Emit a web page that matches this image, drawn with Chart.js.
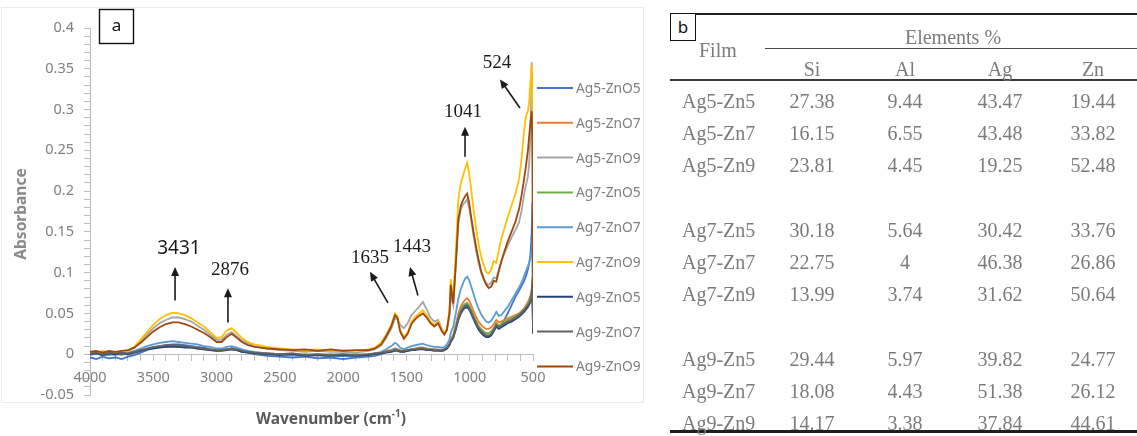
<!DOCTYPE html>
<html>
<head>
<meta charset="utf-8">
<script src="https://cdn.jsdelivr.net/npm/chart.js@4.4.0/dist/chart.umd.min.js"></script>
<style>
  html, body { margin: 0; padding: 0; background: #fff; }
  #page { position: relative; width: 1137px; height: 436px; overflow: hidden; }
  #chartCanvas { position: absolute; left: 0; top: 0; }
  #tableBox { position: absolute; left: 0; top: 0; width: 1137px; height: 436px;
    font-family: 'Liberation Serif', 'Times New Roman', serif; font-size: 20px; color: #7b7b7b; }
  .cell { position: absolute; white-space: nowrap; line-height: 1; }
  .center { transform: translate(-50%, -50%); }
  .left { transform: translateY(-50%); }
  .rule { position: absolute; right: 0; }
  #boxB { position: absolute; left: 670px; top: 13px; width: 24px; height: 26px; border: 1.5px solid #111;
    background: #fff; font-family: 'Noto Sans', sans-serif; font-size: 17px; color: #111;
    text-align: center; line-height: 25px; }
</style>
</head>
<body>
<div id="page">
  <canvas id="chartCanvas" width="645" height="436"></canvas>
  <div id="tableBox"></div>
</div>
<script>
"use strict";

// 1: data
// FTIR spectra (wavenumber in cm-1, absorbance)
const wavenumbers = [
  4000, 3950, 3900, 3850, 3800, 3750, 3700, 3650, 3600, 3550,
  3500, 3450, 3400, 3350, 3300, 3250, 3200, 3150, 3100, 3050,
  3000, 2960, 2920, 2880, 2840, 2800, 2750, 2700, 2600, 2500,
  2400, 2300, 2200, 2100, 2000, 1900, 1800, 1750, 1700, 1660,
  1620, 1590, 1570, 1550, 1520, 1490, 1460, 1430, 1400, 1370,
  1340, 1310, 1280, 1250, 1220, 1200, 1180, 1160, 1150, 1130,
  1110, 1090, 1070, 1050, 1035, 1020, 1005, 990, 970, 950,
  930, 910, 890, 870, 850, 830, 810, 790, 770, 750,
  730, 700, 670, 640, 610, 590, 570, 555, 540, 530,
  520, 510, 505, 500
];

const seriesNames = ['Ag5-ZnO5', 'Ag5-ZnO7', 'Ag5-ZnO9', 'Ag7-ZnO5', 'Ag7-ZnO7',
  'Ag7-ZnO9', 'Ag9-ZnO5', 'Ag9-ZnO7', 'Ag9-ZnO9'];

const ag5ZnO5 = [
  -0.004, -0.006, -0.003, -0.005, -0.004, -0.006, -0.003, -0.001, 0.002, 0.005,
  0.008, 0.010, 0.011, 0.012, 0.012, 0.011, 0.010, 0.009, 0.008, 0.006,
  0.005, 0.005, 0.006, 0.007, 0.005, 0.003, 0.002, 0.000, -0.002, -0.003,
  -0.004, -0.003, -0.005, -0.004, -0.006, -0.004, -0.003, -0.002, 0.000, 0.003,
  0.005, 0.007, 0.006, 0.004, 0.003, 0.005, 0.006, 0.007, 0.008, 0.008,
  0.007, 0.006, 0.006, 0.005, 0.005, 0.006, 0.008, 0.012, 0.016, 0.022,
  0.032, 0.044, 0.052, 0.057, 0.060, 0.062, 0.059, 0.054, 0.047, 0.040,
  0.034, 0.029, 0.026, 0.023, 0.022, 0.024, 0.029, 0.036, 0.033, 0.036,
  0.041, 0.050, 0.060, 0.070, 0.078, 0.084, 0.090, 0.096, 0.104, 0.112,
  0.122, 0.150, 0.185, 0.040
];
const ag5ZnO7 = [
  0.001, 0.000, 0.002, 0.000, 0.001, -0.001, 0.001, 0.003, 0.005, 0.007,
  0.008, 0.009, 0.010, 0.010, 0.010, 0.009, 0.009, 0.008, 0.007, 0.006,
  0.005, 0.005, 0.006, 0.007, 0.006, 0.004, 0.003, 0.002, 0.001, 0.000,
  0.001, -0.001, 0.000, -0.001, 0.000, -0.001, 0.000, 0.001, 0.002, 0.004,
  0.005, 0.006, 0.006, 0.005, 0.004, 0.005, 0.006, 0.007, 0.008, 0.008,
  0.007, 0.006, 0.006, 0.006, 0.005, 0.006, 0.008, 0.013, 0.018, 0.024,
  0.036, 0.050, 0.059, 0.064, 0.067, 0.069, 0.066, 0.061, 0.053, 0.046,
  0.040, 0.036, 0.033, 0.031, 0.031, 0.033, 0.037, 0.042, 0.039, 0.040,
  0.042, 0.044, 0.046, 0.048, 0.050, 0.053, 0.056, 0.060, 0.064, 0.068,
  0.072, 0.080, 0.095, 0.030
];
const ag5ZnO9 = [
  0.001, 0.000, 0.002, 0.001, 0.000, 0.002, 0.003, 0.008, 0.016, 0.024,
  0.032, 0.038, 0.042, 0.045, 0.045, 0.043, 0.040, 0.035, 0.030, 0.024,
  0.018, 0.018, 0.024, 0.027, 0.022, 0.017, 0.013, 0.010, 0.007, 0.005,
  0.004, 0.003, 0.004, 0.003, 0.003, 0.002, 0.004, 0.006, 0.011, 0.020,
  0.031, 0.044, 0.043, 0.036, 0.032, 0.038, 0.048, 0.053, 0.058, 0.064,
  0.055, 0.045, 0.040, 0.042, 0.031, 0.026, 0.030, 0.048, 0.072, 0.060,
  0.108, 0.160, 0.178, 0.184, 0.187, 0.190, 0.180, 0.166, 0.145, 0.127,
  0.112, 0.100, 0.092, 0.087, 0.085, 0.088, 0.094, 0.093, 0.104, 0.114,
  0.122, 0.133, 0.143, 0.152, 0.162, 0.176, 0.196, 0.208, 0.218, 0.235,
  0.270, 0.358, 0.300, 0.210
];
const ag7ZnO5 = [
  0.000, 0.001, 0.000, -0.001, 0.001, 0.000, 0.000, 0.002, 0.004, 0.006,
  0.008, 0.009, 0.009, 0.010, 0.009, 0.009, 0.008, 0.007, 0.006, 0.005,
  0.004, 0.005, 0.006, 0.006, 0.005, 0.004, 0.002, 0.001, 0.000, 0.000,
  -0.001, 0.000, -0.001, 0.000, -0.001, 0.000, -0.001, 0.000, 0.001, 0.003,
  0.004, 0.005, 0.005, 0.004, 0.004, 0.004, 0.005, 0.006, 0.007, 0.007,
  0.006, 0.005, 0.005, 0.005, 0.004, 0.005, 0.007, 0.012, 0.016, 0.022,
  0.033, 0.046, 0.055, 0.060, 0.062, 0.063, 0.060, 0.055, 0.048, 0.041,
  0.035, 0.031, 0.028, 0.026, 0.026, 0.028, 0.032, 0.038, 0.035, 0.037,
  0.039, 0.042, 0.044, 0.046, 0.049, 0.052, 0.055, 0.058, 0.062, 0.065,
  0.069, 0.077, 0.092, 0.028
];
const ag7ZnO7 = [
  -0.001, 0.001, -0.002, 0.000, -0.001, 0.001, 0.001, 0.004, 0.007, 0.010,
  0.012, 0.014, 0.015, 0.016, 0.015, 0.014, 0.013, 0.012, 0.010, 0.009,
  0.007, 0.007, 0.009, 0.010, 0.008, 0.006, 0.004, 0.003, 0.001, 0.000,
  -0.001, -0.002, -0.001, -0.003, -0.002, -0.003, -0.001, 0.001, 0.003, 0.006,
  0.010, 0.014, 0.012, 0.008, 0.006, 0.008, 0.010, 0.011, 0.012, 0.013,
  0.011, 0.010, 0.009, 0.009, 0.008, 0.009, 0.012, 0.018, 0.026, 0.034,
  0.050, 0.068, 0.080, 0.088, 0.093, 0.095, 0.091, 0.084, 0.074, 0.064,
  0.056, 0.049, 0.044, 0.040, 0.039, 0.041, 0.046, 0.052, 0.047, 0.048,
  0.052, 0.058, 0.066, 0.074, 0.082, 0.088, 0.096, 0.102, 0.108, 0.112,
  0.118, 0.125, 0.140, 0.050
];
const ag7ZnO9 = [
  0.003, 0.002, 0.004, 0.002, 0.003, 0.002, 0.004, 0.009, 0.018, 0.027,
  0.036, 0.043, 0.048, 0.051, 0.050, 0.048, 0.044, 0.039, 0.034, 0.027,
  0.020, 0.021, 0.029, 0.032, 0.026, 0.020, 0.015, 0.012, 0.009, 0.007,
  0.006, 0.005, 0.006, 0.004, 0.005, 0.004, 0.006, 0.008, 0.014, 0.024,
  0.036, 0.050, 0.046, 0.030, 0.021, 0.027, 0.040, 0.046, 0.050, 0.054,
  0.048, 0.040, 0.036, 0.040, 0.030, 0.026, 0.032, 0.055, 0.092, 0.068,
  0.125, 0.190, 0.210, 0.220, 0.228, 0.235, 0.222, 0.205, 0.178, 0.155,
  0.135, 0.120, 0.110, 0.101, 0.099, 0.104, 0.114, 0.112, 0.128, 0.142,
  0.152, 0.168, 0.182, 0.196, 0.215, 0.240, 0.275, 0.292, 0.298, 0.310,
  0.335, 0.355, 0.300, 0.200
];
const ag9ZnO5 = [
  0.000, 0.001, -0.001, 0.001, 0.000, 0.001, 0.000, 0.002, 0.004, 0.006,
  0.007, 0.008, 0.009, 0.009, 0.009, 0.008, 0.008, 0.007, 0.006, 0.005,
  0.004, 0.004, 0.005, 0.006, 0.005, 0.003, 0.002, 0.001, 0.000, -0.001,
  0.000, -0.002, -0.001, -0.002, -0.001, -0.002, -0.001, 0.000, 0.001, 0.002,
  0.003, 0.004, 0.004, 0.003, 0.003, 0.004, 0.005, 0.005, 0.006, 0.006,
  0.005, 0.005, 0.004, 0.004, 0.004, 0.005, 0.007, 0.011, 0.015, 0.020,
  0.030, 0.042, 0.050, 0.055, 0.057, 0.058, 0.055, 0.050, 0.043, 0.036,
  0.030, 0.026, 0.023, 0.021, 0.021, 0.023, 0.028, 0.034, 0.031, 0.033,
  0.035, 0.038, 0.040, 0.043, 0.046, 0.049, 0.052, 0.055, 0.058, 0.061,
  0.064, 0.072, 0.085, 0.025
];
const ag9ZnO7 = [
  0.001, 0.002, 0.000, 0.002, 0.001, 0.002, 0.001, 0.003, 0.005, 0.007,
  0.009, 0.010, 0.011, 0.011, 0.011, 0.010, 0.009, 0.008, 0.007, 0.006,
  0.005, 0.005, 0.006, 0.007, 0.006, 0.004, 0.003, 0.002, 0.001, 0.000,
  0.001, -0.001, 0.000, -0.001, 0.000, -0.001, 0.000, 0.001, 0.002, 0.003,
  0.004, 0.005, 0.005, 0.004, 0.004, 0.005, 0.006, 0.006, 0.007, 0.007,
  0.006, 0.006, 0.005, 0.005, 0.005, 0.006, 0.008, 0.012, 0.016, 0.021,
  0.031, 0.044, 0.052, 0.057, 0.059, 0.060, 0.057, 0.052, 0.045, 0.038,
  0.032, 0.028, 0.025, 0.023, 0.023, 0.025, 0.030, 0.036, 0.033, 0.035,
  0.037, 0.040, 0.042, 0.045, 0.048, 0.051, 0.054, 0.057, 0.060, 0.063,
  0.066, 0.075, 0.090, 0.030
];
const ag9ZnO9 = [
  0.003, 0.004, 0.002, 0.004, 0.003, 0.004, 0.005, 0.008, 0.014, 0.021,
  0.028, 0.033, 0.037, 0.039, 0.039, 0.037, 0.034, 0.030, 0.026, 0.021,
  0.015, 0.015, 0.021, 0.025, 0.020, 0.015, 0.011, 0.009, 0.007, 0.006,
  0.005, 0.006, 0.004, 0.006, 0.004, 0.005, 0.005, 0.007, 0.012, 0.022,
  0.034, 0.048, 0.044, 0.028, 0.019, 0.025, 0.037, 0.043, 0.047, 0.050,
  0.045, 0.038, 0.034, 0.038, 0.028, 0.024, 0.030, 0.050, 0.085, 0.062,
  0.110, 0.165, 0.182, 0.190, 0.194, 0.197, 0.186, 0.170, 0.150, 0.132,
  0.116, 0.102, 0.093, 0.085, 0.081, 0.083, 0.090, 0.089, 0.102, 0.114,
  0.124, 0.138, 0.150, 0.162, 0.178, 0.195, 0.215, 0.232, 0.250, 0.268,
  0.285, 0.298, 0.260, 0.080
];
const seriesValues = [ag5ZnO5, ag5ZnO7, ag5ZnO9, ag7ZnO5, ag7ZnO7, ag7ZnO9, ag9ZnO5, ag9ZnO7, ag9ZnO9];

// peak annotations
const peakLabels = ['3431', '2876', '1635', '1443', '1041', '524'];

// table (b): elemental composition
const films = ['Ag5-Zn5', 'Ag5-Zn7', 'Ag5-Zn9', 'Ag7-Zn5', 'Ag7-Zn7', 'Ag7-Zn9', 'Ag9-Zn5', 'Ag9-Zn7', 'Ag9-Zn9'];
const elements = ['Si', 'Al', 'Ag', 'Zn'];
const siPct = [27.38, 16.15, 23.81, 30.18, 22.75, 13.99, 29.44, 18.08, 14.17];
const alPct = [9.44, 6.55, 4.45, 5.64, 4, 3.74, 5.97, 4.43, 3.38];
const agPct = [43.47, 43.48, 19.25, 30.42, 46.38, 31.62, 39.82, 51.38, 37.84];
const znPct = [19.44, 33.82, 52.48, 33.76, 26.86, 50.64, 24.77, 26.12, 44.61];

// 2: styling
const seriesColors = ['#4472C4', '#ED7D31', '#A5A5A5', '#70AD47', '#5B9BD5',
  '#FFC000', '#264478', '#636363', '#9E480E'];
const sansFont = "'Noto Sans', 'Open Sans', sans-serif";
const serifFont = "'Liberation Serif', 'Times New Roman', serif";
const axisGray = '#BFBFBF';
const tickGray = '#7F7F7F';

// where each peak label and its arrow sit, in chart values (wavenumber, absorbance)
const peakPlacement = [
  { text: [3297, 0.130], from: [3328, 0.066], to: [3328, 0.107], font: '19px ' + sansFont },
  { text: [2894, 0.103], from: [2910, 0.039], to: [2910, 0.081], font: '19px ' + serifFont },
  { text: [1788, 0.118], from: [1646, 0.063], to: [1788, 0.101], font: '19px ' + serifFont },
  { text: [1456, 0.131], from: [1409, 0.072], to: [1472, 0.107], font: '19px ' + serifFont },
  { text: [1053, 0.297], from: [1037, 0.242], to: [1037, 0.279], font: '19px ' + serifFont },
  { text: [784, 0.357], from: [603, 0.302], to: [761, 0.337], font: '19px ' + serifFont }
];

function drawArrow(ctx, x1, y1, x2, y2) {
  const ang = Math.atan2(y2 - y1, x2 - x1);
  const head = 9, half = 4;
  ctx.beginPath();
  ctx.moveTo(x1, y1);
  ctx.lineTo(x2 - Math.cos(ang) * head * 0.7, y2 - Math.sin(ang) * head * 0.7);
  ctx.stroke();
  ctx.beginPath();
  ctx.moveTo(x2, y2);
  ctx.lineTo(x2 - head * Math.cos(ang) + half * Math.sin(ang), y2 - head * Math.sin(ang) - half * Math.cos(ang));
  ctx.lineTo(x2 - head * Math.cos(ang) - half * Math.sin(ang), y2 - head * Math.sin(ang) + half * Math.cos(ang));
  ctx.closePath();
  ctx.fill();
}

// extra drawing: frame, legend, titles, peak arrows, panel letter
const decorations = {
  id: 'decorations',
  beforeDraw(chart) {
    const ctx = chart.ctx;
    ctx.save();
    ctx.strokeStyle = '#EBEBEB';
    ctx.lineWidth = 1;
    ctx.strokeRect(1.5, 7.5, 642, 395);
    ctx.restore();
  },
  afterDraw(chart) {
    const ctx = chart.ctx;
    const x = chart.scales.x, y = chart.scales.y;
    ctx.save();

    // peak labels and arrows
    ctx.fillStyle = '#1a1a1a';
    ctx.strokeStyle = '#1a1a1a';
    ctx.lineWidth = 1.6;
    ctx.textAlign = 'center';
    ctx.textBaseline = 'middle';
    peakLabels.forEach((label, i) => {
      const p = peakPlacement[i];
      ctx.font = p.font;
      ctx.fillText(label, x.getPixelForValue(p.text[0]), y.getPixelForValue(p.text[1]));
      drawArrow(ctx,
        x.getPixelForValue(p.from[0]), y.getPixelForValue(p.from[1]),
        x.getPixelForValue(p.to[0]), y.getPixelForValue(p.to[1]));
    });

    // legend
    ctx.font = '13.8px ' + sansFont;
    ctx.textAlign = 'left';
    chart.data.datasets.forEach((ds, i) => {
      const ly = 88 + i * 34.8;
      ctx.strokeStyle = ds.borderColor;
      ctx.lineWidth = 2;
      ctx.beginPath();
      ctx.moveTo(537, ly);
      ctx.lineTo(573, ly);
      ctx.stroke();
      ctx.fillStyle = tickGray;
      ctx.fillText(ds.label, 576, ly + 1);
    });

    // y axis title
    ctx.save();
    ctx.translate(22, 214);
    ctx.rotate(-Math.PI / 2);
    ctx.font = 'bold 15.5px ' + sansFont;
    ctx.fillStyle = '#8A8A8A';
    ctx.textAlign = 'center';
    ctx.fillText('Absorbance', 0, 0);
    ctx.restore();

    // x axis title with superscript
    const main = 'Wavenumber (cm', sup = '-1', tail = ')';
    const bigFont = 'bold 15.5px ' + sansFont, smallFont = 'bold 10px ' + sansFont;
    ctx.font = bigFont;
    const wMain = ctx.measureText(main).width, wTail = ctx.measureText(tail).width;
    ctx.font = smallFont;
    const wSup = ctx.measureText(sup).width;
    let tx = 331 - (wMain + wSup + wTail) / 2;
    ctx.fillStyle = '#595959';
    ctx.font = bigFont;
    ctx.fillText(main, tx, 420);
    tx += wMain;
    ctx.font = smallFont;
    ctx.fillText(sup, tx, 414);
    tx += wSup;
    ctx.font = bigFont;
    ctx.fillText(tail, tx, 420);

    // panel letter
    ctx.strokeStyle = '#111';
    ctx.lineWidth = 1.4;
    ctx.strokeRect(99.5, 9.5, 34, 34);
    ctx.fillStyle = '#111';
    ctx.font = '17px ' + sansFont;
    ctx.textAlign = 'center';
    ctx.fillText('a', 116.5, 26);

    ctx.restore();
  }
};

// 3: create and append the chart
function appendChart() {
  const datasets = seriesNames.map((name, i) => ({
    label: name,
    data: wavenumbers.map((w, k) => ({ x: w, y: seriesValues[i][k] })),
    borderColor: seriesColors[i],
    backgroundColor: seriesColors[i],
    order: seriesNames.length - 1 - i // later series on top, like the original
  }));

  new Chart(document.getElementById('chartCanvas'), {
    type: 'line',
    data: { datasets: datasets },
    options: {
      responsive: false,
      animation: false,
      devicePixelRatio: 1,
      layout: { padding: { left: 0, top: 28, right: 112, bottom: 41 } },
      elements: {
        point: { radius: 0 },
        line: { borderWidth: 1.8, tension: 0 }
      },
      plugins: { legend: { display: false }, tooltip: { enabled: false } },
      scales: {
        x: {
          type: 'linear',
          reverse: true,
          min: 500,
          max: 4000,
          position: { y: 0 },
          border: { color: axisGray, width: 1 },
          grid: { drawOnChartArea: false, drawTicks: true, tickLength: 6, color: axisGray },
          ticks: {
            stepSize: 100,
            autoSkip: false,
            maxRotation: 0,
            padding: 9,
            color: tickGray,
            font: { family: sansFont, size: 14.5 },
            callback: v => (v % 500 === 0 ? String(v) : '')
          }
        },
        y: {
          min: -0.05,
          max: 0.4,
          position: 'left',
          afterFit: s => { s.width = 90; },
          border: { color: axisGray, width: 1 },
          grid: { drawOnChartArea: false, drawTicks: true, tickLength: 6, color: axisGray },
          ticks: {
            stepSize: 0.01,
            autoSkip: false,
            padding: 10,
            color: tickGray,
            font: { family: sansFont, size: 14.5 },
            callback: v => (Math.abs(v * 20 - Math.round(v * 20)) < 1e-6 ? String(+v.toFixed(2)) : '')
          }
        }
      }
    },
    plugins: [decorations]
  });
}

// 4: the table of panel b
function appendTable() {
  const box = document.getElementById('tableBox');
  function cell(text, cx, cy, align) {
    const d = document.createElement('div');
    d.className = 'cell ' + align;
    d.style.left = cx + 'px';
    d.style.top = cy + 'px';
    d.textContent = text;
    box.appendChild(d);
  }
  function rule(left, top, h, color) {
    const d = document.createElement('div');
    d.className = 'rule';
    d.style.left = left + 'px';
    d.style.top = top + 'px';
    d.style.height = h + 'px';
    d.style.background = color;
    box.appendChild(d);
  }
  const colX = [812, 905, 1000, 1093];
  const cols = [siPct, alPct, agPct, znPct];

  rule(670, 12.5, 2.5, '#1f1f1f');
  rule(765, 47.5, 1.5, '#4a4a4a');
  rule(670, 78.5, 2, '#3a3a3a');
  rule(670, 430, 3, '#1f1f1f');

  cell('Film', 699, 50, 'left');
  cell('Elements %', 953, 37, 'center');
  elements.forEach((el, j) => cell(el, colX[j], 69, 'center'));

  films.forEach((film, i) => {
    const group = Math.floor(i / 3), r = i % 3;
    const cy = 101 + group * 129 + r * 32;
    cell(film, 682, cy, 'left');
    cols.forEach((col, j) => cell(String(col[i]), colX[j], cy, 'center'));
  });

  const b = document.createElement('div');
  b.id = 'boxB';
  b.textContent = 'b';
  box.appendChild(b);
}

appendChart();
appendTable();
</script>
</body>
</html>
